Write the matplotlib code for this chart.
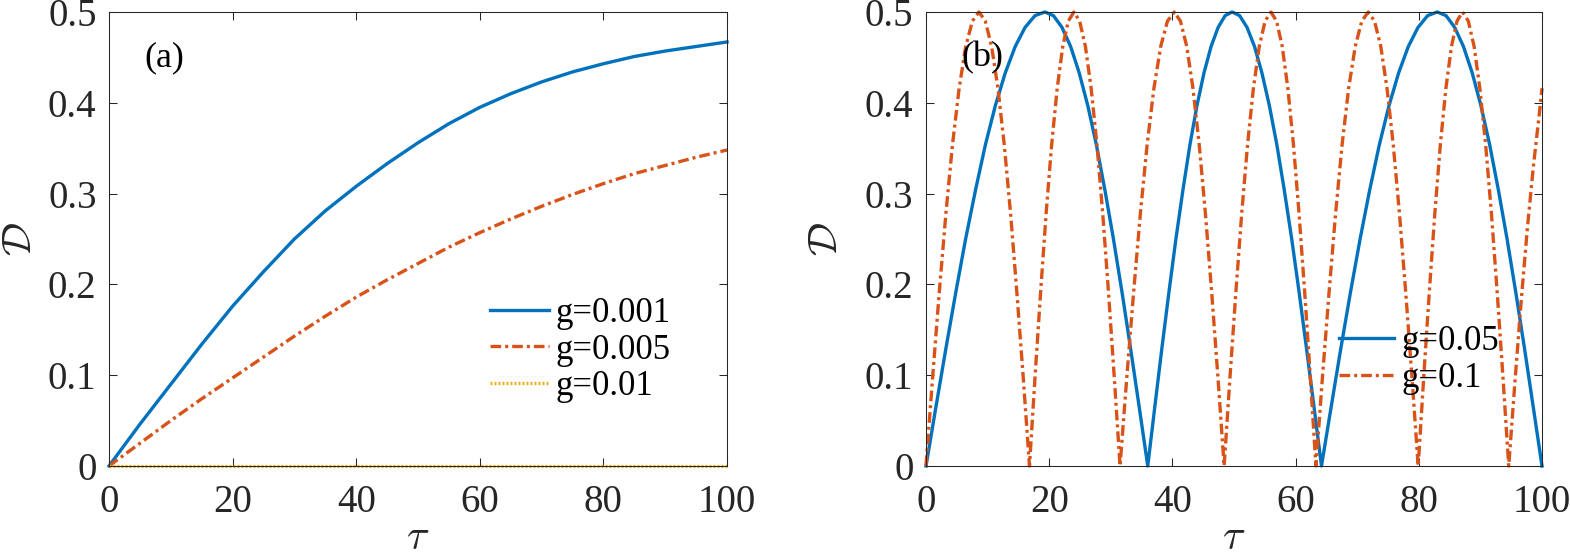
import matplotlib
matplotlib.use("Agg")
import matplotlib.pyplot as plt

# ---- data ----
# panel (a)
tau_a = [0, 5, 10, 15, 20, 25, 30, 35, 40, 45, 50, 55, 60, 65, 70, 75, 80, 85, 90, 95, 100]
d_g0001 = [0, 0.046, 0.090, 0.134, 0.176, 0.214, 0.250, 0.281, 0.308, 0.333, 0.356,
           0.377, 0.395, 0.410, 0.423, 0.434, 0.443, 0.451, 0.457, 0.462, 0.467]
d_g0005 = [0, 0.025, 0.050, 0.074, 0.097, 0.120, 0.143, 0.165, 0.186, 0.205, 0.223,
           0.241, 0.257, 0.272, 0.286, 0.299, 0.311, 0.322, 0.331, 0.340, 0.348]
tau_a_flat = [0, 100]
d_g001 = [0, 0]

# panel (b)
tau_g005 = [0, 1.61, 3.22, 4.83, 6.43, 8.04, 9.65, 11.26, 12.87, 14.48, 16.08, 17.69, 19.3,
            20.69, 22.08, 23.48, 24.87, 26.26, 27.65, 29.04, 30.43, 31.83, 33.22, 34.61, 36.0,
            37.14, 38.28, 39.43, 40.57, 41.71, 42.85, 43.99, 45.13, 46.28, 47.42, 48.56, 49.7,
            50.91, 52.12, 53.33, 54.53, 55.74, 56.95, 58.16, 59.37, 60.58, 61.78, 62.99, 64.2,
            65.77, 67.33, 68.9, 70.47, 72.03, 73.6, 75.17, 76.73, 78.3, 79.87, 81.43, 83.0,
            84.42, 85.83, 87.25, 88.67, 90.08, 91.5, 92.92, 94.33, 95.75, 97.17, 98.58, 100.0]
d_g005 = [0, 0.065, 0.129, 0.191, 0.25, 0.304, 0.354, 0.397, 0.433, 0.462, 0.483, 0.496, 0.5,
          0.496, 0.483, 0.462, 0.433, 0.397, 0.354, 0.304, 0.25, 0.191, 0.129, 0.065, 0,
          0.065, 0.129, 0.191, 0.25, 0.304, 0.354, 0.397, 0.433, 0.462, 0.483, 0.496, 0.5,
          0.496, 0.483, 0.462, 0.433, 0.397, 0.354, 0.304, 0.25, 0.191, 0.129, 0.065, 0,
          0.065, 0.129, 0.191, 0.25, 0.304, 0.354, 0.397, 0.433, 0.462, 0.483, 0.496, 0.5,
          0.496, 0.483, 0.462, 0.433, 0.397, 0.354, 0.304, 0.25, 0.191, 0.129, 0.065, 0]

tau_g01 = [0, 1.08, 2.15, 3.23, 4.3, 5.38, 6.45, 7.53, 8.6, 9.63, 10.65, 11.68, 12.7, 13.73, 14.75, 15.78, 16.8,
           17.7, 18.6, 19.5, 20.4, 21.3, 22.2, 23.1, 24.0, 24.94, 25.88, 26.81, 27.75, 28.69, 29.63, 30.56, 31.5,
           32.6, 33.7, 34.8, 35.9, 37.0, 38.1, 39.2, 40.3, 41.31, 42.33, 43.34, 44.35, 45.36, 46.38, 47.39, 48.4,
           49.35, 50.3, 51.25, 52.2, 53.15, 54.1, 55.05, 56.0, 56.91, 57.83, 58.74, 59.65, 60.56, 61.48, 62.39, 63.3,
           64.36, 65.43, 66.49, 67.55, 68.61, 69.68, 70.74, 71.8, 72.81, 73.83, 74.84, 75.85, 76.86, 77.88, 78.89, 79.9,
           80.8, 81.7, 82.6, 83.5, 84.4, 85.3, 86.2, 87.1, 88.04, 88.98, 89.91, 90.85, 91.79, 92.73, 93.66, 94.6,
           95.6, 96.6, 97.6, 98.6, 99.6, 100.0]
d_g01 = [0, 0.098, 0.191, 0.278, 0.354, 0.416, 0.462, 0.490, 0.5, 0.490, 0.462, 0.416, 0.354, 0.278, 0.191, 0.098, 0,
         0.098, 0.191, 0.278, 0.354, 0.416, 0.462, 0.490, 0.5, 0.490, 0.462, 0.416, 0.354, 0.278, 0.191, 0.098, 0,
         0.098, 0.191, 0.278, 0.354, 0.416, 0.462, 0.490, 0.5, 0.490, 0.462, 0.416, 0.354, 0.278, 0.191, 0.098, 0,
         0.098, 0.191, 0.278, 0.354, 0.416, 0.462, 0.490, 0.5, 0.490, 0.462, 0.416, 0.354, 0.278, 0.191, 0.098, 0,
         0.098, 0.191, 0.278, 0.354, 0.416, 0.462, 0.490, 0.5, 0.490, 0.462, 0.416, 0.354, 0.278, 0.191, 0.098, 0,
         0.098, 0.191, 0.278, 0.354, 0.416, 0.462, 0.490, 0.5, 0.490, 0.462, 0.416, 0.354, 0.278, 0.191, 0.098, 0,
         0.092, 0.18, 0.26, 0.33, 0.39, 0.416]

x_ticks = [0, 20, 40, 60, 80, 100]
x_tick_labels = ["0", "20", "40", "60", "80", "100"]
y_ticks = [0, 0.1, 0.2, 0.3, 0.4, 0.5]
y_tick_labels = ["0", "0.1", "0.2", "0.3", "0.4", "0.5"]

# ---- style ----
plt.rcParams['font.family'] = ['Liberation Serif', 'DejaVu Serif']
plt.rcParams['mathtext.fontset'] = 'cm'

BLUE = '#0072BD'
ORANGE = '#D95319'
YELLOW = '#EDB120'
DARK = '#262626'
LW = 2.4
DASHDOT = (0, (3.2, 1.2, 0.9, 1.2))
DOTTED = (0, (0.6, 0.6))


def style_axes(ax, ylab_x):
    ax.set_xlim(0, 100)
    ax.set_ylim(0, 0.5)
    ax.set_xticks(x_ticks)
    ax.set_xticklabels(x_tick_labels)
    ax.set_yticks(y_ticks)
    ax.set_yticklabels(y_tick_labels)
    ax.tick_params(direction='in', top=True, right=True, length=5.5, width=0.75,
                   colors=DARK, labelsize=28)
    ax.tick_params(axis='x', pad=13)
    ax.tick_params(axis='y', pad=9)
    for spine in ax.spines.values():
        spine.set_color(DARK)
        spine.set_linewidth(0.75)
    # tau sits right at the bottom edge, as in the reference
    ax.set_xlabel(r'$\tau$', fontsize=30, color=DARK, va='bottom')
    ax.xaxis.set_label_coords(0.5, -0.203)
    ax.set_ylabel(r'$\mathcal{D}$', fontsize=30, color=DARK)
    ax.yaxis.set_label_coords(ylab_x, 0.5)


fig = plt.figure(figsize=(15.7, 5.6), dpi=100)
ax_a = fig.add_axes([109 / 1570, 94 / 560, 618 / 1570, 454 / 560])
ax_b = fig.add_axes([926 / 1570, 94 / 560, 616 / 1570, 454 / 560])

# (a)
ax_a.plot(tau_a, d_g0001, color=BLUE, lw=LW, label='g=0.001', clip_on=False)
ax_a.plot(tau_a, d_g0005, color=ORANGE, lw=LW, ls=DASHDOT, label='g=0.005', clip_on=False)
ax_a.plot(tau_a_flat, d_g001, color=YELLOW, lw=LW, ls=DOTTED, label='g=0.01', clip_on=False)
style_axes(ax_a, -0.112)
ax_a.text(0.09, 0.90, '(a)', transform=ax_a.transAxes, fontsize=26,
          ha='center', va='center')
ax_a.legend(loc='center left', bbox_to_anchor=(0.616, 0.2555), frameon=False,
            fontsize=25, handlelength=1.7, handletextpad=0.2, labelspacing=0.1,
            borderpad=0, borderaxespad=0)

# (b)
ax_b.plot(tau_g005, d_g005, color=BLUE, lw=LW, label='g=0.05', clip_on=False)
ax_b.plot(tau_g01, d_g01, color=ORANGE, lw=LW, ls=DASHDOT, label='g=0.1', clip_on=False)
style_axes(ax_b, -0.13)
ax_b.text(0.092, 0.90, '(b)', transform=ax_b.transAxes, fontsize=26,
          ha='center', va='center')
ax_b.legend(loc='center left', bbox_to_anchor=(0.670, 0.2335), frameon=False,
            fontsize=25, handlelength=1.6, handletextpad=0.2, labelspacing=0.1,
            borderpad=0, borderaxespad=0)

fig.savefig('out.png', dpi=100)
